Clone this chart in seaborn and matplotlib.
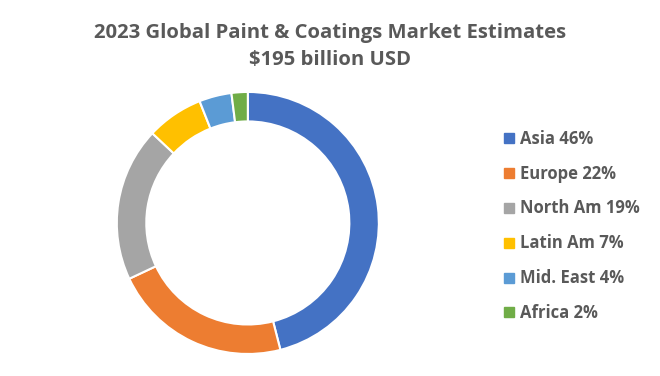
import matplotlib
matplotlib.use("Agg")
import matplotlib.pyplot as plt
from matplotlib.lines import Line2D
import seaborn as sns

# market share by region, 2023
regions = ['Asia', 'Europe', 'North Am', 'Latin Am', 'Mid. East', 'Africa']
shares = [46, 22, 19, 7, 4, 2]
colors = ['#4472C4', '#ED7D31', '#A5A5A5', '#FFC000', '#5B9BD5', '#70AD47']

sns.set_theme(style='white')
plt.rcParams['font.family'] = ['Open Sans', 'DejaVu Sans']

fig = plt.figure(figsize=(6.6, 3.76), dpi=100)
ax = fig.add_axes([0.177, 0.0585, 0.397, 0.697])

wedges, _ = ax.pie(shares, colors=colors, startangle=90, counterclock=False,
                   radius=1.0, wedgeprops=dict(width=0.225, edgecolor='white', linewidth=1.5))
ax.set_xlim(-1, 1)
ax.set_ylim(-1, 1)
ax.set_aspect('equal')
ax.axis('off')

fig.text(0.5, 0.94, '2023 Global Paint & Coatings Market Estimates\n$195 billion USD',
         ha='center', va='top', fontsize=14.6, fontweight='bold', color='#595959',
         linespacing=1.5)

handles = [Line2D([0], [0], marker='s', linestyle='', markersize=6.5,
                  markerfacecolor=c, markeredgecolor=c) for c in colors]
labels = [f'{r} {s}%' for r, s in zip(regions, shares)]
leg = fig.legend(handles, labels, loc='upper left', bbox_to_anchor=(0.762, 0.655),
                 frameon=False, handletextpad=0.35, handlelength=0.8,
                 labelspacing=1.1, borderpad=0, borderaxespad=0)
for t in leg.get_texts():
    t.set_fontsize(12)
    t.set_fontweight('bold')
    t.set_color('#595959')

fig.savefig('out.png', dpi=100)
